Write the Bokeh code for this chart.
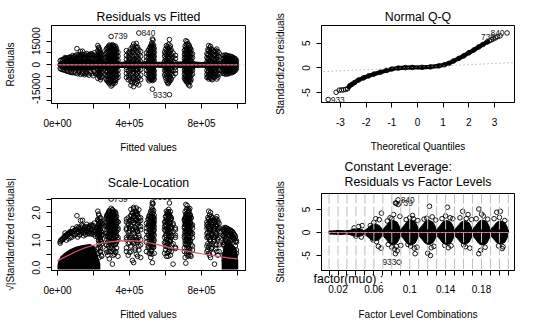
import math
from bokeh.plotting import figure
from bokeh.layouts import row, column
from bokeh.models import FixedTicker, Span, Slope, Range1d, LinearAxis, Title
from bokeh.core.properties import value
from bokeh.embed import file_html
from bokeh.resources import INLINE

FONT = "Liberation Sans"

# ---------------- data: residuals vs fitted (values in thousands) ----------------
resid_scale_k = 2.88  # residual standard error (thousands)

rvf_strip_fit = [
    15, 28, 42, 56, 70, 85, 100, 108, 118, 128, 139, 150, 162, 174, 186, 198, 210,
    20, 35, 49, 63, 77, 92, 112, 123, 134, 145, 156, 168, 180, 192, 204, 216,
    224, 231, 239, 246, 228, 235, 243,
    270, 279, 288, 298, 305, 312, 320, 328, 336, 274, 284, 293, 301, 309, 316, 324,
    383, 393, 408, 423, 438, 452, 462, 400, 416, 431, 445,
    494, 504, 514, 521, 527, 531, 537, 509, 518, 524, 534,
    595, 605, 614, 622, 632, 642, 655, 600, 610, 618, 627,
    705, 713, 720, 728, 735, 742, 750, 709, 716, 724, 731, 738,
    830, 840, 850, 860, 872, 885, 898, 835, 845, 855, 866, 878, 891,
    920, 932, 945, 958, 970, 982, 994, 926, 939, 951, 964, 976, 988,
]
rvf_strip_res = [
    [2.6, -2.3], [3.2, -3.0], [3.9, -3.5, 4.6], [4.3, -4.1], [5.0, -4.6, 3.6],
    [4.5, -5.0, 5.9], [5.6, -5.3, 4.2], [10.3, 6.4], [6.2, -4.8, 4.9], [8.5, 5.2, -6.1],
    [8.6, 6.6, -5.5], [4.7, -6.3, 6.0], [5.3, -5.1, 7.2], [6.1, -6.6, 4.4], [5.6, -4.6, 7.0],
    [4.9, -6.9, 6.3], [5.1, -5.2, 3.8],
    [3.0, -2.8], [3.6, -3.3], [4.1, -3.9, 2.9], [4.6, -4.3, 3.2], [4.8, -4.9, 3.5],
    [5.2, -4.4, 3.9], [5.0, -5.7, 3.6], [5.8, -4.2, 4.1], [4.6, -5.0, 6.9], [5.5, -4.6, 3.9],
    [6.4, -5.6, 4.2], [4.6, -5.8, 5.9], [5.0, -4.4, 6.5], [6.8, -5.6, 4.3], [5.5, -4.2, 7.6],
    [4.5, -6.0, 6.2],
    [12.2, 9.0, 6.0, 4.0, 1.5, -0.8, -3.5, -5.5, -8.6],
    [10.5, 7.5, 5.0, 3.0, 0.4, -2.2, -4.8, -7.0],
    [8.0, 5.5, 3.5, 1.0, -1.5, -3.0, -6.2, -9.5],
    [6.5, 4.2, 2.2, -0.5, -4.0, -7.5],
    [11.0, 8.2, 5.4, 2.8, -1.4, -4.2, -6.6],
    [9.4, 6.6, 4.2, 1.8, -1.0, -3.6, -5.8, -8.0],
    [7.2, 4.8, 2.6, -0.6, -2.6, -5.0, -8.2],
    [9.5, 6.8, 4.5, 2.0, -1.2, -3.8, -6.5, -9.0],
    [11.0, 8.5, 6.0, 3.8, 0.6, -2.5, -4.0, -6.8, -10.5],
    [12.5, 10.0, 7.2, 5.0, 2.8, -0.3, -3.5, -5.5, -8.0, -12.0],
    [18.0, 11.0, 8.0, 5.5, 3.5, 1.5, -1.8, -4.2, -7.0, -9.5, -13.5],
    [12.8, 10.2, 7.8, 5.2, 2.4, 0.05, -3.0, -5.8, -8.5, -12.8],
    [11.5, 9.0, 6.5, 4.0, 1.2, -2.0, -4.5, -7.2, -10.0],
    [12.0, 9.5, 6.8, 4.5, 2.0, -0.9, -3.8, -6.0, -9.2, -11.5],
    [10.0, 7.5, 5.0, 2.6, -1.5, -4.0, -6.5, -8.5],
    [8.0, 5.5, 3.0, 0.5, -3.5, -6.0, -8.0],
    [10.5, 7.8, 5.4, 3.0, 0.9, -2.0, -4.6, -7.5, -10.0],
    [11.8, 9.2, 6.6, 4.2, 1.8, -1.0, -3.0, -6.2, -9.3, -11.2],
    [12.0, 9.0, 6.2, 4.0, 1.0, -2.5, -4.8, -6.6, -10.8],
    [11.6, 9.4, 6.8, 4.6, 2.0, -1.0, -3.4, -6.4, -8.0, -11.0],
    [12.2, 9.8, 7.2, 4.8, 2.6, -0.6, -3.2, -5.2, -8.0, -11.8],
    [10.8, 8.2, 5.8, 3.2, 0.7, -2.6, -5.0, -7.8, -10.6],
    [11.2, 8.6, 6.0, 3.6, 1.0, -2.2, -4.8, -7.2, -9.8],
    [9.0, 6.0, 3.5, 1.0, -1.5, -3.0, -5.5, -8.0],
    [7.5, 4.8, 2.2, -0.6, -4.0, -7.0, -9.5],
    [10.2, 7.0, 4.0, 1.8, -1.0, -3.5, -6.5, -10.5, -13.0],
    [13.2, 10.2, 7.8, 2.5, 0.1, -2.2, -4.5, -7.8, -9.7, -13.9],
    [13.6, 11.0, 8.5, 5.5, 2.8, -0.7, -3.5, -6.0, -9.0, -12.0],
    [20.2, 9.5, 6.5, 3.5, 1.2, -1.8, -4.0, -8.0, -12.8],
    [8.5, 5.5, 2.0, -0.4, -3.0, -6.5, -9.5],
    [8.5, 6.0, 3.4, 0.9, -2.4, -5.2, -8.4],
    [11.5, 8.6, 5.8, 3.0, -0.2, -2.6, -5.4, -8.6, -11.5],
    [12.0, 9.4, 6.2, 3.8, 1.5, -1.2, -3.0, -5.2, -8.4, -11.0],
    [11.2, 8.0, 5.0, 2.4, -0.5, -2.8, -5.2, -7.2, -10.5],
    [7.5, 5.0, 2.5, -1.0, -3.5, -6.0],
    [9.0, 6.5, 4.0, 1.5, -1.8, -4.0, -7.0, -9.0],
    [11.0, 8.0, 5.5, 3.5, 0.8, -1.5, -3.8, -6.5, -8.8],
    [12.5, 10.0, 7.5, 5.0, 3.0, 1.0, -1.2, -3.0, -5.0, -7.5, -9.5],
    [16.4, 13.0, 9.0, 6.5, 4.2, 2.2, 0.1, -2.0, -3.5, -5.8, -8.0, -10.0, -15.5],
    [15.7, 11.5, 8.0, 5.0, 1.6, -2.6, -6.8],
    [10.5, 8.0, 5.5, 2.8, -0.8, -4.0, -6.5, -9.0],
    [10.0, 7.2, 4.8, 2.2, -0.8, -3.0, -5.4, -7.8, -10.2],
    [12.0, 9.4, 6.8, 4.4, 2.0, -0.4, -2.4, -4.5, -7.0, -9.0],
    [14.0, 11.0, 8.6, 6.0, 3.8, 1.6, -0.7, -2.6, -4.6, -6.8, -9.0],
    [12.5, 9.6, 7.0, 4.4, 2.0, -1.6, -3.2, -5.2, -7.6, -9.6],
    [8.0, 5.5, 2.4, -0.8, -3.5, -6.5],
    [12.2, 9.0, 6.0, 3.0, 0.5, -1.8, -4.0, -7.0, -10.0],
    [10.5, 7.5, 4.5, 1.6, -0.5, -3.0, -5.5, -8.5, -12.0],
    [16.0, 11.0, 8.0, 5.0, 2.6, -1.2, -4.5, -7.5, -10.5, -19.0],
    [9.5, 6.5, 3.8, 1.0, -2.0, -3.5, -6.0, -9.0],
    [7.5, 5.0, 2.2, -0.05, -4.0, -7.0],
    [6.0, 4.0, 1.4, -1.6, -3.5, -5.5],
    [10.0, 7.0, 4.0, 1.8, -1.2, -2.6, -5.2, -8.2],
    [11.4, 8.2, 5.2, 2.2, -0.8, -2.4, -4.8, -7.8, -11.0],
    [13.0, 9.4, 6.6, 3.6, 1.0, -2.0, -3.8, -6.4, -9.4, -11.4],
    [12.0, 9.0, 6.0, 3.0, 0.6, -2.6, -5.0, -7.8, -10.0],
    [9.0, 6.5, 4.0, 1.5, -1.0, -3.5, -6.0, -8.5],
    [15.3, 11.0, 8.0, 5.5, 2.8, 0.08, -2.0, -4.0, -7.0, -10.0],
    [14.7, 10.5, 7.5, 5.0, 3.0, 1.0, -1.5, -3.0, -5.5, -8.0, -11.0],
    [12.0, 9.0, 6.5, 4.0, 1.8, -0.6, -2.6, -4.5, -7.5, -10.5, -12.8],
    [11.0, 8.5, 5.5, 2.4, -1.2, -3.5, -6.0, -9.0, -13.4],
    [9.5, 7.0, 4.5, 2.0, -0.5, -4.0, -6.5, -9.5],
    [7.0, 4.5, 1.2, -1.8, -3.5, -6.0],
    [12.0, 9.5, 7.0, 4.8, 2.2, -0.4, -2.8, -5.0, -7.6, -9.4],
    [13.0, 9.6, 7.0, 4.2, 2.0, -0.8, -3.2, -5.2, -8.4, -10.6],
    [13.4, 10.0, 7.8, 5.6, 2.6, 0.5, -2.0, -3.8, -6.4, -9.0, -11.6],
    [12.5, 9.8, 7.2, 4.8, 1.4, -1.0, -3.0, -5.0, -7.0, -9.8],
    [10.2, 7.6, 4.8, 2.8, -0.6, -2.8, -5.0, -7.8, -10.5],
    [7.0, 4.5, 1.8, -1.0, -3.5, -6.0, -8.0],
    [12.2, 9.0, 6.0, 3.5, 0.8, -1.6, -4.0, -6.5, -9.0],
    [11.7, 8.5, 5.5, 2.6, -0.4, -3.0, -5.5, -8.5],
    [9.5, 7.0, 4.2, 1.6, -2.2, -4.5, -7.0, -9.5],
    [8.5, 6.0, 3.0, 0.05, -3.5, -6.0, -8.0],
    [10.0, 7.0, 4.5, 2.0, -1.0, -4.0, -6.5, -9.0],
    [7.5, 5.0, 1.0, -2.0, -3.5, -6.0],
    [9.6, 6.4, 3.8, 1.2, -2.2, -4.8, -7.4],
    [10.6, 8.0, 4.8, 2.0, -0.6, -3.0, -5.8, -8.2],
    [10.0, 7.6, 4.6, 1.4, -1.4, -4.0, -6.4, -9.0],
    [8.8, 6.4, 3.6, 0.8, -2.6, -5.2, -7.6],
    [9.2, 6.6, 3.8, 1.4, -2.0, -4.6, -7.2],
    [8.4, 5.8, 3.2, -0.6, -3.0, -5.4, -7.8],
    [6.0, 4.0, 2.0, -0.6, -2.5, -4.0, -5.5],
    [6.2, 4.5, 2.8, 0.8, -1.5, -3.0, -4.5, -6.0],
    [5.8, 4.2, 1.8, -0.4, -2.2, -4.2, -5.8],
    [5.5, 4.0, 2.4, 0.6, -1.8, -3.8, -5.2],
    [5.0, 3.8, 1.5, -1.0, -3.0, -5.0],
    [4.2, 3.0, 1.0, -1.2, -3.2, -4.2],
    [2.8, 1.2, -0.8, -2.5],
    [5.6, 4.2, 2.4, 0.2, -2.0, -3.6, -5.2],
    [6.0, 4.6, 2.6, 0.5, -1.2, -3.4, -5.4],
    [5.4, 3.8, 2.2, -0.2, -2.6, -4.0, -5.6],
    [5.2, 3.6, 1.8, -0.8, -2.8, -4.4],
    [4.6, 3.4, 1.2, -1.4, -3.4, -4.6],
    [3.8, 2.6, 0.6, -1.8, -3.4],
]

# dense core of overlapping points around zero (half-width, thousands)
rvf_band_fit = [0, 8, 25, 50, 80, 120, 160, 200, 225, 260, 300, 350, 400, 450, 500,
                550, 600, 650, 700, 750, 800, 850, 900, 925, 950, 975, 995, 1003]
rvf_band_half = [0.5, 1.8, 2.8, 3.3, 3.6, 3.8, 3.8, 3.5, 2.2, 2.6, 3.0, 2.0, 2.2, 2.0, 2.4,
                 1.9, 2.0, 1.9, 2.2, 2.2, 1.8, 2.2, 2.0, 3.0, 3.6, 3.2, 2.0, 0.6]

rvf_smooth_fit = [0, 1000]
rvf_smooth_res = [0.0, 0.0]

id_names = ["739", "840", "933"]
id_fit = [298, 452, 622]
id_res = [18.0, 20.2, -19.0]
id_side = ["right", "right", "left"]

# ---------------- data: normal Q-Q ----------------
qq_theo = [-3.48, -3.17, -3.05, -2.96, -2.88, -2.80, -2.72, -2.64, -2.55, -2.45, -2.3, -2.1,
           -1.9, -1.7, -1.45, -1.2, -1.0, -0.75, -0.47, -0.2, 0.18, 0.5, 0.83, 1.05, 1.22,
           1.4, 1.61, 1.8, 2.0, 2.2, 2.39, 2.55, 2.71, 2.8, 2.88, 2.95, 3.04, 3.12, 3.22, 3.49]
qq_samp = [-6.4, -4.93, -4.5, -4.45, -4.42, -4.35, -4.2, -3.6, -3.3, -2.95, -2.45, -2.0,
           -1.6, -1.25, -0.87, -0.5, -0.22, -0.02, 0.07, 0.1, 0.13, 0.22, 0.42, 0.65, 0.93,
           1.4, 1.93, 2.45, 3.07, 3.65, 4.27, 4.75, 5.25, 5.5, 5.7, 5.9, 6.1, 6.35, 6.5, 7.1]
qq_line_slope = 0.247
qq_line_intercept = 0.17
qq_id_theo = [3.12, 3.49, -3.48]
qq_id_samp = [6.35, 7.1, -6.4]
qq_id_side = ["left", "left", "right"]

# ---------------- data: scale-location ----------------
sl_smooth_fit = [0, 50, 100, 150, 200, 250, 300, 350, 400, 450, 500, 550, 600, 650, 700,
                 750, 800, 850, 900, 950, 1000]
sl_smooth_val = [0.25, 0.42, 0.58, 0.72, 0.82, 0.9, 0.95, 0.98, 0.99, 0.97, 0.92, 0.85, 0.77,
                 0.7, 0.63, 0.57, 0.51, 0.46, 0.41, 0.36, 0.32]
sl_mass_left_fit = [0, 6, 18, 40, 70, 100, 140, 180, 205, 222, 238]
sl_mass_left_top = [0.1, 0.28, 0.42, 0.55, 0.67, 0.76, 0.83, 0.86, 0.8, 0.5, 0.15]
sl_mass_right_fit = [912, 925, 945, 965, 985, 998, 1004]
sl_mass_right_top = [0.4, 0.8, 0.9, 0.88, 0.74, 0.52, 0.28]

# ---------------- data: residuals vs factor levels ----------------
fl_levels = ["0.02", "0.04", "0.06", "0.08", "0.1", "0.12", "0.14", "0.16", "0.18", "0.2"]
fl_core = [0.45, 0.85, 1.8, 2.6, 2.7, 2.6, 2.6, 2.5, 2.7, 2.5]
fl_neck = [0.35, 0.4, 0.5, 0.7, 0.7, 0.7, 0.7, 0.7, 0.7, 0.7, 0.6]
fl_pt_pos = [2.8, 3.3, 3.6, 3.0, 3.7,
             4.6, 5.0, 5.3, 5.6, 5.85, 5.5, 5.8, 4.9, 5.2,
             6.5, 7.0, 7.2, 7.4, 7.7, 7.7, 7.5, 7.8, 7.4, 7.6, 7.0, 6.6, 7.9, 7.3, 8.0, 6.8, 7.5,
             8.6, 9.0, 9.3, 9.6, 9.4, 9.8, 9.1, 8.8, 9.9, 9.5,
             10.6, 11.0, 11.2, 11.3, 11.5, 11.7, 10.9, 11.9, 11.4,
             12.6, 13.2, 13.3, 13.0, 13.6, 13.8, 12.9, 13.5,
             14.6, 14.9, 15.2, 15.5, 15.7, 15.0, 15.9, 15.3,
             16.4, 16.7, 16.7, 16.9, 17.2, 17.4, 17.7, 17.0,
             18.4, 18.7, 19.1, 19.3, 18.9, 19.6, 19.0, 19.4]
fl_pt_val = [1.0, 1.3, -1.0, -0.8, 1.5,
             1.5, 2.2, -2.0, 2.8, 4.2, -3.0, -3.4, -1.6, 3.0,
             2.5, 3.0, 3.9, 6.4, 6.1, 7.1, 6.35, -6.45, -4.6, -4.0, -3.2, -2.6, 3.5, -3.6, -2.8, 3.2, -3.0,
             2.8, 3.2, 3.7, -4.6, 3.0, -3.2, -3.0, -2.6, 2.6, -3.4,
             2.9, -4.5, 5.7, -5.0, 3.4, -3.0, 3.1, 2.7, -3.3,
             3.0, 5.5, -3.3, 3.6, -2.9, 3.0, -2.8, 3.2,
             3.2, 4.6, -3.1, 3.9, -3.4, -2.7, 2.8, 3.0,
             3.0, 5.1, -4.6, -3.9, 3.6, -3.2, 2.9, 4.0,
             3.0, 4.4, 4.6, -3.5, -2.9, 2.6, 3.3, -3.1]
fl_smooth_pos = [0, 20]
fl_smooth_val = [0.0, 0.0]
fl_id_pos = [7.7, 7.5, 7.8]
fl_id_val = [7.1, 6.35, -6.45]
fl_id_name = ["840", "739", "933"]
fl_id_side = ["right", "right", "left"]
fl_factor_caption = "factor(muo) :"

RED = "#DF536B"
GREY = "#BEBEBE"


def style_axis(ax, ticks, labels, tick_out=5, size="10px", standoff=10):
    ax.ticker = FixedTicker(ticks=ticks, minor_ticks=[])
    ax.major_label_overrides = {t: l for t, l in zip(ticks, labels)}
    ax.axis_line_color = "black"
    ax.major_tick_line_color = "black"
    ax.major_tick_in = 0
    ax.major_tick_out = tick_out
    ax.minor_tick_line_color = None
    ax.major_label_text_font = FONT
    ax.major_label_text_font_size = size
    ax.major_label_text_color = "black"
    ax.major_label_standoff = standoff
    ax.axis_label_text_font = FONT
    ax.axis_label_text_font_size = "10px"
    ax.axis_label_text_font_style = "normal"
    ax.axis_label_text_color = "black"


def base_fig(w, h, left, right, top, bottom, xr, yr, xticks, xlabels, yticks, ylabels,
             title, xlabel, ylabel, title_standoff=3, title_lh=1.0):
    p = figure(width=w, height=h, output_backend="svg", toolbar_location=None,
               x_range=Range1d(*xr), y_range=Range1d(*yr),
               min_border_left=left, min_border_right=right,
               min_border_top=top, min_border_bottom=bottom)
    p.title.text = title
    p.title.align = "center"
    p.title.text_font = FONT
    p.title.text_font_size = "12.3px"
    p.title.text_font_style = "normal"
    p.title.text_color = "black"
    p.title.standoff = title_standoff
    p.title.text_line_height = title_lh
    p.xgrid.visible = False
    p.ygrid.visible = False
    p.outline_line_color = "black"
    p.outline_line_width = 1
    p.outline_line_alpha = 1
    p.background_fill_color = "white"
    p.border_fill_color = "white"
    style_axis(p.xaxis[0], xticks, xlabels, standoff=10)
    style_axis(p.yaxis[0], yticks, ylabels, standoff=6)
    p.yaxis.major_label_orientation = "vertical"
    if xlabel:
        p.xaxis.axis_label = xlabel
        p.xaxis.axis_label_standoff = 12
    p.yaxis.axis_label = ylabel
    p.yaxis.axis_label_standoff = 14
    return p


def circles(p, xs, ys):
    p.scatter(xs, ys, marker="circle", size=4.6, fill_color=None,
              line_color="black", line_width=0.9)


def id_text(p, xs, ys, names, sides):
    for side, off in (("right", 2.6), ("left", -2.6)):
        sel = [i for i, s in enumerate(sides) if s == side]
        if not sel:
            continue
        p.text([xs[i] for i in sel], [ys[i] for i in sel], text=[names[i] for i in sel],
               x_offset=off, text_align="left" if side == "right" else "right",
               text_baseline="middle", text_font=value(FONT), text_font_size="8.4px",
               text_color="#222222")


flat_fit = [f for f, rs in zip(rvf_strip_fit, rvf_strip_res) for _ in rs]
flat_res = [r for rs in rvf_strip_res for r in rs]

FIT_RANGE = (-33300, 1044400)
fit_ticks = [0, 200000, 400000, 600000, 800000, 1000000]
fit_labels = ["0e+00", "", "4e+05", "", "8e+05", ""]

# ---------------- panel 1: Residuals vs Fitted ----------------
p1 = base_fig(270, 164, 51, 25, 25, 61, FIT_RANGE, (-24600, 24980), fit_ticks, fit_labels,
              [-22500, -15000, -7500, 0, 7500, 15000], ["", "-15000", "", "0", "", "15000"],
              "Residuals vs Fitted", "Fitted values", "Residuals")
p1.varea(x=[f * 1000 for f in rvf_band_fit], y1=[-h * 1000 for h in rvf_band_half],
         y2=[h * 1000 for h in rvf_band_half], fill_color="black")
circles(p1, [f * 1000 for f in flat_fit], [r * 1000 for r in flat_res])
p1.add_layout(Span(location=0, dimension="width", line_color=GREY, line_dash="1 3", line_width=1))
p1.line([f * 1000 for f in rvf_smooth_fit], [r * 1000 for r in rvf_smooth_res],
        line_color=RED, line_width=1.2)
id_text(p1, [f * 1000 for f in id_fit], [r * 1000 for r in id_res], id_names, id_side)

# ---------------- panel 2: Normal Q-Q ----------------
p2 = base_fig(270, 154, 51, 26, 25, 51, (-3.74, 3.78), (-7.0, 8.6),
              [-3, -2, -1, 0, 1, 2, 3], ["-3", "-2", "-1", "0", "1", "2", "3"],
              [-5, 0, 5], ["-5", "0", "5"],
              "Normal Q-Q", "Theoretical Quantiles", "Standardized residuals")
p2.add_layout(Slope(gradient=qq_line_slope, y_intercept=qq_line_intercept,
                    line_color="#999999", line_dash="1 3", line_width=1))
dense = [i for i, q in enumerate(qq_theo) if -2.75 <= q <= 2.8]
p2.line([qq_theo[i] for i in dense], [qq_samp[i] for i in dense], line_color="black", line_width=4.2)
circles(p2, qq_theo, qq_samp)
id_text(p2, qq_id_theo, qq_id_samp, id_names, qq_id_side)

# ---------------- panel 3: Scale-Location ----------------
p3 = base_fig(270, 169, 51, 25, 34, 63, FIT_RANGE, (-0.10, 2.52), fit_ticks, fit_labels,
              [0, 0.5, 1.0, 1.5, 2.0, 2.5], ["0.0", "", "1.0", "", "2.0", ""],
              "Scale-Location", "Fitted values", "\u221a|Standardized residuals|",
              title_standoff=17)
for mf, mt in ((sl_mass_left_fit, sl_mass_left_top), (sl_mass_right_fit, sl_mass_right_top)):
    p3.varea(x=[f * 1000 for f in mf], y1=[-0.06] * len(mf), y2=mt, fill_color="black")
circles(p3, [f * 1000 for f in flat_fit], [math.sqrt(abs(r) / resid_scale_k) for r in flat_res])
p3.line([f * 1000 for f in sl_smooth_fit], sl_smooth_val, line_color=RED, line_width=1.2)
id_text(p3, [f * 1000 for f in id_fit], [math.sqrt(abs(r) / resid_scale_k) for r in id_res],
        id_names, id_side)

# ---------------- panel 4: Residuals vs Factor Levels ----------------
fl_ticks = list(range(2 * len(fl_levels) + 1))
p4 = base_fig(270, 179, 51, 26, 39, 63, (-0.84, 20.68), (-8.26, 8.48),
              fl_ticks, [""] * len(fl_ticks), [-5, 0, 5], ["-5", "0", "5"],
              "Constant Leverage:\nResiduals vs Factor Levels", None, "Standardized residuals",
              title_standoff=8, title_lh=1.08)
p4.xaxis.major_label_text_font_size = "1px"
p4.xaxis.major_label_standoff = 0
# caption ("factor(muo) :") then the level-label axis, stacked below the tick axis
p4.add_layout(Title(text=fl_factor_caption, align="left", offset=-8, standoff=-8,
                    vertical_align="top", text_font=FONT, text_font_size="12.3px",
                    text_font_style="normal", text_color="black"), "below")
lev_centers = [2 * j + 1 for j in range(len(fl_levels))]
lev_text = [lv if j % 2 == 0 else "" for j, lv in enumerate(fl_levels)]
lev_axis = LinearAxis()
style_axis(lev_axis, lev_centers, lev_text, tick_out=0, size="10px", standoff=1)
lev_axis.axis_line_color = None
lev_axis.major_tick_line_color = None
lev_axis.axis_label = "Factor Level Combinations"
lev_axis.axis_label_standoff = 13
p4.add_layout(lev_axis, "below")

for k in fl_ticks:
    p4.add_layout(Span(location=k, dimension="height", line_color=GREY,
                       line_dash="10 3", line_width=1))
shape_dx = [0, 0.35, 0.7, 1.0, 1.3, 1.6, 1.85, 2.0]
shape_frac = [0, 0.55, 0.88, 1.0, 0.98, 0.85, 0.5, 0]
xs_all, ys_all = [], []
for j, hgt in enumerate(fl_core):
    ln, rn = fl_neck[j], fl_neck[j + 1]
    top = []
    for i, fr in enumerate(shape_frac):
        if i == 0:
            top.append(ln)
        elif i == len(shape_frac) - 1:
            top.append(rn)
        else:
            top.append(max(fr * hgt, min(ln, rn)))
    xs = [2 * j + dx for dx in shape_dx]
    xs_all.append(xs + xs[::-1])
    ys_all.append(top + [-v for v in top[::-1]])
p4.patches(xs_all, ys_all, fill_color="black", line_color="black", line_width=1)
circles(p4, fl_pt_pos, fl_pt_val)
p4.line(fl_smooth_pos, fl_smooth_val, line_color=RED, line_width=1.2)
p4.add_layout(Span(location=0, dimension="width", line_color=GREY, line_dash="1 3", line_width=1))
id_text(p4, fl_id_pos, fl_id_val, fl_id_name, fl_id_side)

layout = row(column(p1, p3), column(p2, p4))
open("out.html", "w").write(file_html(layout, INLINE))
